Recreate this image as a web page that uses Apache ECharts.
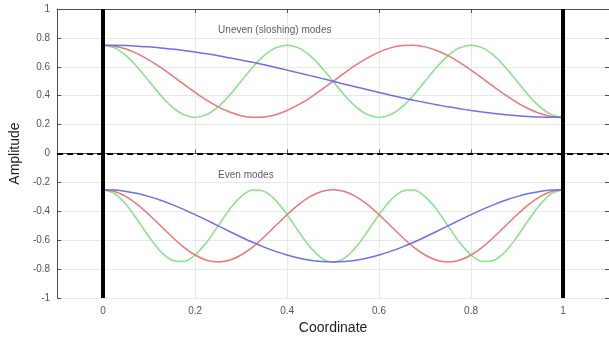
<!DOCTYPE html>
<html>
<head>
<meta charset="utf-8">
<script src="https://cdn.jsdelivr.net/npm/echarts@6/dist/echarts.min.js"></script>
<style>
  html, body { margin: 0; padding: 0; background: #fff; }
  #chart { width: 609px; height: 340px; }
</style>
</head>
<body>
<div id="chart"></div>
<script>
// Sample positions along the tank (coordinate 0 .. 1)
const coordinates = [
  0.000, 0.025, 0.050, 0.075, 0.100, 0.125, 0.150, 0.175, 0.200, 0.225,
  0.250, 0.275, 0.300, 0.325, 0.350, 0.375, 0.400, 0.425, 0.450, 0.475,
  0.500, 0.525, 0.550, 0.575, 0.600, 0.625, 0.650, 0.675, 0.700, 0.725,
  0.750, 0.775, 0.800, 0.825, 0.850, 0.875, 0.900, 0.925, 0.950, 0.975, 1.000
];

// Uneven (sloshing) modes, upper group
const unevenMode1 = [
  0.750, 0.749, 0.747, 0.743, 0.738, 0.731, 0.723, 0.713, 0.702, 0.690,
  0.677, 0.662, 0.647, 0.631, 0.614, 0.596, 0.577, 0.558, 0.539, 0.520,
  0.500, 0.480, 0.461, 0.442, 0.423, 0.404, 0.386, 0.369, 0.353, 0.338,
  0.323, 0.310, 0.298, 0.287, 0.277, 0.269, 0.262, 0.257, 0.253, 0.251, 0.250
];
const unevenMode3 = [
  0.750, 0.743, 0.723, 0.690, 0.647, 0.596, 0.539, 0.480, 0.423, 0.369,
  0.323, 0.287, 0.262, 0.251, 0.253, 0.269, 0.298, 0.338, 0.386, 0.442,
  0.500, 0.558, 0.614, 0.662, 0.702, 0.731, 0.747, 0.749, 0.738, 0.713,
  0.677, 0.631, 0.577, 0.520, 0.461, 0.404, 0.353, 0.310, 0.277, 0.257, 0.250
];
const unevenMode5 = [
  0.750, 0.731, 0.677, 0.596, 0.500, 0.404, 0.323, 0.269, 0.250, 0.269,
  0.323, 0.404, 0.500, 0.596, 0.677, 0.731, 0.750, 0.731, 0.677, 0.596,
  0.500, 0.404, 0.323, 0.269, 0.250, 0.269, 0.323, 0.404, 0.500, 0.596,
  0.677, 0.731, 0.750, 0.731, 0.677, 0.596, 0.500, 0.404, 0.323, 0.269, 0.250
];

// Even modes, lower group
const evenMode2 = [
  -0.250, -0.253, -0.262, -0.277, -0.298, -0.323, -0.353, -0.386, -0.423, -0.461,
  -0.500, -0.539, -0.577, -0.614, -0.647, -0.677, -0.702, -0.723, -0.738, -0.747,
  -0.750, -0.747, -0.738, -0.723, -0.702, -0.677, -0.647, -0.614, -0.577, -0.539,
  -0.500, -0.461, -0.423, -0.386, -0.353, -0.323, -0.298, -0.277, -0.262, -0.253, -0.250
];
const evenMode4 = [
  -0.250, -0.262, -0.298, -0.353, -0.423, -0.500, -0.577, -0.647, -0.702, -0.738,
  -0.750, -0.738, -0.702, -0.647, -0.577, -0.500, -0.423, -0.353, -0.298, -0.262,
  -0.250, -0.262, -0.298, -0.353, -0.423, -0.500, -0.577, -0.647, -0.702, -0.738,
  -0.750, -0.738, -0.702, -0.647, -0.577, -0.500, -0.423, -0.353, -0.298, -0.262, -0.250
];
const evenMode6 = [
  -0.250, -0.277, -0.353, -0.461, -0.577, -0.677, -0.738, -0.747, -0.702, -0.614,
  -0.500, -0.386, -0.298, -0.253, -0.262, -0.323, -0.423, -0.539, -0.647, -0.723,
  -0.750, -0.723, -0.647, -0.539, -0.423, -0.323, -0.262, -0.253, -0.298, -0.386,
  -0.500, -0.614, -0.702, -0.747, -0.738, -0.677, -0.577, -0.461, -0.353, -0.277, -0.250
];

// Tank walls and still-water level
const wallPositions = [0, 1];
const stillLevel = 0;

// Group captions: [x, y, text]
const captions = [
  [0.25, 0.85, 'Uneven (sloshing) modes'],
  [0.25, -0.15, 'Even modes']
];

const BLUE = '#6e6ef0';
const RED = '#ee7676';
const GREEN = '#84e284';
const FONT = '"Liberation Sans", Arial, sans-serif';

function pairs(ys) {
  return coordinates.map((x, i) => [x, ys[i]]);
}

function curve(ys, color) {
  return {
    type: 'line',
    data: pairs(ys),
    smooth: 0.3,
    showSymbol: false,
    symbol: 'none',
    lineStyle: { color: color, width: 1.5 },
    animation: false,
    z: 3
  };
}

const axisLineStyle = { color: '#4d4d4d', width: 1 };

const chart = echarts.init(document.getElementById('chart'), null, { renderer: 'canvas' });

chart.setOption({
  animation: false,
  backgroundColor: '#ffffff',
  grid: { left: 56, top: 9, width: 554, height: 290, containLabel: false },
  xAxis: [
    {
      type: 'value',
      min: -0.1,
      max: 1.1,
      position: 'bottom',
      axisLine: { show: true, lineStyle: axisLineStyle },
      axisTick: { show: true, inside: true, length: 4, lineStyle: axisLineStyle },
      axisLabel: {
        showMinLabel: false, showMaxLabel: false,
        color: '#555', fontSize: 10, fontFamily: FONT, margin: 8
      },
      splitLine: { show: true, lineStyle: { color: '#e8e8e8', width: 1 } },
      name: 'Coordinate',
      nameLocation: 'middle',
      nameGap: 20,
      nameTextStyle: { color: '#222', fontSize: 14, fontFamily: FONT }
    },
    {
      type: 'value',
      min: -0.1,
      max: 1.1,
      position: 'top',
      axisLine: { show: true, onZero: false, lineStyle: axisLineStyle },
      axisTick: { show: true, inside: true, length: 4, lineStyle: axisLineStyle },
      axisLabel: { show: false },
      splitLine: { show: false }
    }
  ],
  yAxis: [
    {
      type: 'value',
      min: -1,
      max: 1,
      interval: 0.2,
      position: 'left',
      axisLine: { show: true, onZero: false, lineStyle: axisLineStyle },
      axisTick: { show: true, inside: true, length: 4, lineStyle: axisLineStyle },
      axisLabel: { color: '#555', fontSize: 10, fontFamily: FONT, margin: 7 },
      splitLine: { show: true, lineStyle: { color: '#e8e8e8', width: 1 } },
      name: 'Amplitude',
      nameLocation: 'middle',
      nameGap: 35,
      nameTextStyle: { color: '#222', fontSize: 14, fontFamily: FONT }
    },
    {
      type: 'value',
      min: -1,
      max: 1,
      interval: 0.2,
      position: 'right',
      axisLine: { show: true, onZero: false, lineStyle: axisLineStyle },
      axisTick: { show: true, inside: true, length: 4, lineStyle: axisLineStyle },
      axisLabel: { show: false },
      splitLine: { show: false }
    }
  ],
  series: [
    // Walls and still-water level
    {
      type: 'line',
      data: [],
      symbol: 'none',
      z: 5,
      markLine: {
        silent: true,
        symbol: 'none',
        label: { show: false },
        animation: false,
        data: [
          ...wallPositions.map(x => ({ xAxis: x, lineStyle: { color: '#000', width: 4, type: 'solid' } })),
          { yAxis: stillLevel, lineStyle: { color: '#000', width: 2, type: [6, 4] } }
        ]
      }
    },
    curve(unevenMode5, GREEN),
    curve(unevenMode3, RED),
    curve(unevenMode1, BLUE),
    curve(evenMode6, GREEN),
    curve(evenMode4, RED),
    curve(evenMode2, BLUE),
    // Group captions
    {
      type: 'scatter',
      data: captions.map(c => ({ value: [c[0], c[1]], name: c[2] })),
      symbolSize: 0,
      silent: true,
      z: 6,
      label: {
        show: true,
        position: 'right',
        distance: 0,
        formatter: p => p.name,
        color: '#333',
        fontSize: 10,
        fontFamily: FONT
      }
    }
  ]
});
</script>
</body>
</html>
